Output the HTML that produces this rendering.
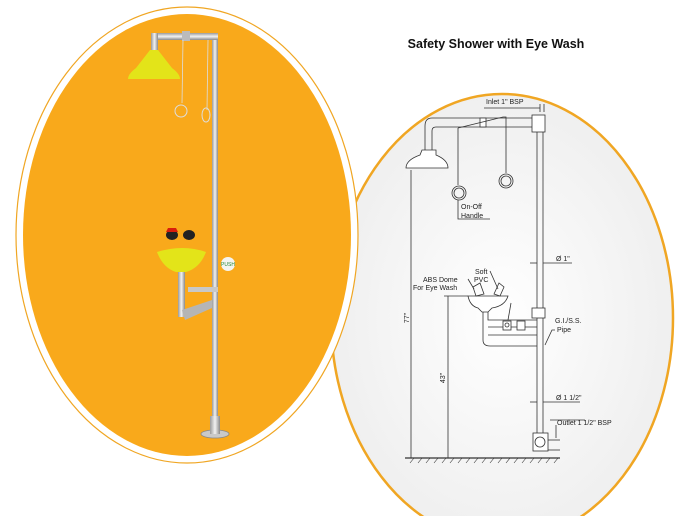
<!DOCTYPE html>
<html><head><meta charset="utf-8"><style>
html,body{margin:0;padding:0;background:#fff;overflow:hidden;width:678px;height:516px;}
svg{display:block;}
</style></head><body>
<svg width="678" height="516" viewBox="0 0 678 516" xmlns="http://www.w3.org/2000/svg" font-family="Liberation Sans, sans-serif">
<defs>
<radialGradient id="g" cx="0.5" cy="0.5" r="0.6">
<stop offset="0" stop-color="#ffffff"/><stop offset="1" stop-color="#ececec"/>
</radialGradient>
<linearGradient id="steel" x1="0" x2="1"><stop offset="0" stop-color="#9a9a9a"/><stop offset="0.5" stop-color="#f2f2f2"/><stop offset="1" stop-color="#8a8a8a"/></linearGradient>
<linearGradient id="steelh" x1="0" x2="0" y1="0" y2="1"><stop offset="0" stop-color="#9a9a9a"/><stop offset="0.5" stop-color="#f2f2f2"/><stop offset="1" stop-color="#8a8a8a"/></linearGradient>
</defs>
<rect width="678" height="516" fill="#fff"/>
<ellipse cx="502" cy="318" rx="171" ry="224" fill="url(#g)" stroke="#f0a623" stroke-width="2.5"/>
<ellipse cx="187" cy="235" rx="171" ry="228" fill="#fff" stroke="#f0a623" stroke-width="1.2"/>
<ellipse cx="187" cy="235" rx="164" ry="221" fill="#f9a91b"/>

<rect x="212" y="36" width="6" height="400" fill="url(#steel)"/>
<rect x="152" y="33" width="66" height="7" fill="url(#steelh)"/>
<rect x="151" y="33" width="7" height="20" fill="url(#steel)"/>
<rect x="182" y="31" width="8" height="10" fill="#bbb"/>
<path d="M150 50 L158 50 L172 68 Q180 74 180 79 L128 79 Q128 74 136 68 Z" fill="#e3e419"/>
<line x1="183" y1="40" x2="182" y2="103" stroke="#ddd" stroke-width="0.8"/>
<line x1="208" y1="40" x2="207" y2="110" stroke="#ddd" stroke-width="0.8"/>
<ellipse cx="181" cy="111" rx="6" ry="6" fill="none" stroke="#ddd" stroke-width="1"/>
<ellipse cx="206" cy="115" rx="4" ry="7" fill="none" stroke="#ddd" stroke-width="1"/>
<path d="M157 252 Q183 244 206 252 Q200 268 186 272 L176 272 Q163 268 157 252 Z" fill="#e3e419"/>
<ellipse cx="172" cy="235" rx="6" ry="5" fill="#222"/><path d="M166 232 L178 232 L176 228 L168 228Z" fill="#d81d0c"/>
<ellipse cx="189" cy="235" rx="6" ry="5" fill="#222"/>
<rect x="178" y="272" width="7" height="45" fill="url(#steel)"/>
<path d="M182 310 L212 300 L212 308 L185 320 Z" fill="#b5b5b5"/>
<rect x="188" y="287" width="30" height="5" fill="#c8c8c8"/>
<circle cx="228" cy="264" r="7" fill="#f4f4f0"/><text x="228" y="266" font-size="5" fill="#2a8a3a" text-anchor="middle">PUSH</text>
<ellipse cx="215" cy="434" rx="14" ry="4" fill="#c9c9c9" stroke="#888" stroke-width="0.8"/>
<rect x="210" y="416" width="10" height="18" fill="url(#steel)"/>

<text x="496" y="48" font-size="12.5" font-weight="bold" text-anchor="middle" fill="#111">Safety Shower with Eye Wash</text>

<g stroke="#333" stroke-width="0.8" fill="none">
<line x1="484" y1="108" x2="540" y2="108"/>
<line x1="540" y1="104" x2="540" y2="112"/><line x1="544" y1="104" x2="544" y2="112"/>
<rect x="532" y="115" width="13" height="17" fill="#fff"/>
<line x1="537" y1="132" x2="537" y2="433"/><line x1="543" y1="132" x2="543" y2="433"/>
<path d="M532 118 L432 118 Q425 118 425 126 L425 150"/>
<path d="M532 127 L436 127 Q432 127 432 131 L432 150"/>
<rect x="480" y="118" width="6" height="9" fill="#fff"/>
<path d="M458 128 L503 117 L506 117 L506 173"/>
<line x1="458" y1="128" x2="458" y2="185"/>
<circle cx="459" cy="193" r="7"/><circle cx="459" cy="193" r="5"/>
<circle cx="506" cy="181" r="7"/><circle cx="506" cy="181" r="5"/>
<path d="M422 150 L436 150 L436 155 Q448 160 448 168 L406 168 Q406 160 420 155 Z" fill="#fff"/>
<path d="M458 200 L458 219 L490 219"/>
<line x1="530" y1="263" x2="537" y2="263"/><line x1="543" y1="263" x2="572" y2="263"/>
<line x1="530" y1="402" x2="537" y2="402"/><line x1="543" y1="402" x2="580" y2="402"/>
<path d="M468 296 L508 296 Q505 306 492 308 L488 312 L482 312 L478 308 Q470 306 468 296Z" fill="#fff"/>
<path d="M473 287 L480 283 L484 294 L476 296Z"/><path d="M494 294 L499 283 L504 287 L500 296Z"/>
<path d="M483 312 L483 340 Q483 346 490 346 L537 346"/>
<path d="M488 312 L488 320 L537 320"/>
<line x1="488" y1="327" x2="537" y2="327"/>
<line x1="488" y1="335" x2="537" y2="335"/>
<rect x="503" y="321" width="8" height="9" fill="#fff"/><circle cx="507" cy="325" r="2"/>
<rect x="517" y="321" width="8" height="9" fill="#fff"/>
<line x1="508" y1="320" x2="511" y2="303"/>
<rect x="532" y="308" width="13" height="10" fill="#fff"/>
<path d="M474 289 L468 279"/><path d="M498 289 L490 271"/>
<path d="M545 345 L552 330 L555 330"/>
<line x1="411" y1="170" x2="411" y2="458"/>
<line x1="448" y1="296" x2="448" y2="458"/>
<line x1="444" y1="296" x2="468" y2="296"/>
<rect x="533" y="433" width="15" height="18" fill="#fff"/><circle cx="540" cy="442" r="5"/>
<line x1="548" y1="440" x2="560" y2="440"/><line x1="548" y1="450" x2="560" y2="450"/>
<line x1="556" y1="425" x2="556" y2="438"/><line x1="550" y1="420" x2="585" y2="420"/>
<line x1="405" y1="458" x2="560" y2="458" stroke-width="1.2"/>
</g>
<g stroke="#333" stroke-width="0.6">
<path d="M410 463 L414 458 M418 463 L422 458 M426 463 L430 458 M434 463 L438 458 M442 463 L446 458 M450 463 L454 458 M458 463 L462 458 M466 463 L470 458 M474 463 L478 458 M482 463 L486 458 M490 463 L494 458 M498 463 L502 458 M506 463 L510 458 M514 463 L518 458 M522 463 L526 458 M530 463 L534 458 M538 463 L542 458 M546 463 L550 458 M554 463 L558 458"/>
</g>
<g font-size="7" fill="#222">
<text x="486" y="104">Inlet 1" BSP</text>
<text x="461" y="209">On-Off</text><text x="461" y="218">Handle</text>
<text x="556" y="261">Ø 1"</text>
<text x="475" y="274">Soft</text><text x="474" y="282">PVC</text>
<text x="423" y="282">ABS Dome</text><text x="413" y="290">For Eye Wash</text>
<text x="555" y="323">G.I./S.S.</text><text x="557" y="332">Pipe</text>
<text x="556" y="400">Ø 1 1/2"</text>
<text x="557" y="425">Outlet 1 1/2" BSP</text>
<text transform="translate(409,318) rotate(-90)" text-anchor="middle">77"</text>
<text transform="translate(445,378) rotate(-90)" text-anchor="middle">43"</text>
</g>
</svg>
</body></html>
